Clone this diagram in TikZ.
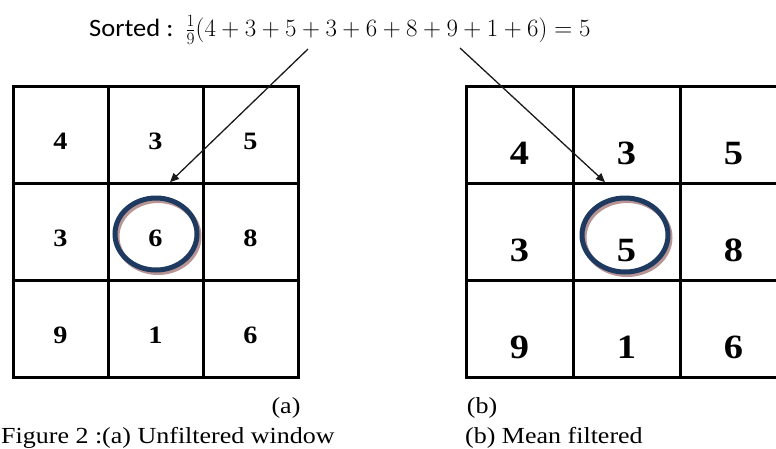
\documentclass[tikz,border=0pt]{standalone}
\usepackage{fontspec}
\usepackage{tikz}
\usetikzlibrary{arrows.meta,positioning}
\newfontfamily\capfont{Liberation Serif}[FakeStretch=1.13]
\newfontfamily\sortfont{Carlito}[FakeStretch=1.06]
\definecolor{ringnavy}{HTML}{1F3A60}
\definecolor{ringshade}{HTML}{B89494}
\definecolor{arrowgrey}{HTML}{1A1A1A}

\begin{document}
\begin{tikzpicture}[x=1pt,y=-1pt,
  cl/.style={draw,line width=3pt,minimum width=95pt,minimum height=96.7pt,inner sep=0pt,
             font=\capfont\bfseries\fontsize{25}{30}\selectfont,text height=29pt,text depth=0pt},
  cr/.style={cl,minimum width=107pt,font=\capfont\bfseries\fontsize{34}{40}\selectfont,text height=59pt},
  ring/.style={draw=ringnavy,line width=5pt},
  shd/.style={draw=ringshade,line width=5pt},
  captxt/.style={font=\capfont\fontsize{23}{27}\selectfont,inner sep=0pt},
  a/.style={-{Triangle[length=9pt,width=8pt]},draw=arrowgrey,line width=1.3pt}]

\useasboundingbox (0,0) rectangle (776,448);
\clip (0,0) rectangle (776,448);

% formula
\node[anchor=base west,inner sep=0pt,font=\sortfont\fontsize{25}{30}\selectfont] (frm) at (89,36)
  {Sorted :\hspace{12pt}{\fontsize{27}{32}\selectfont$\frac{1}{9}(4+3+5+3+6+8+9+1+6)=5$}};

% (a) unfiltered window
\node[cl] (a11) at (60.5,135.3){4}; \node[cl] (a12) at (155.5,135.3){3}; \node[cl] (a13) at (250.5,135.3){5};
\node[cl] (a21) at (60.5,232){3}; \node[cl] (a22) at (155.5,232){6}; \node[cl] (a23) at (250.5,232){8};
\node[cl] (a31) at (60.5,328.7){9}; \node[cl] (a32) at (155.5,328.7){1}; \node[cl] (a33) at (250.5,328.7){6};

% (b) mean filtered
\node[cr] (b11) at (519.5,135.3){4}; \node[cr] (b12) at (626.5,135.3){3}; \node[cr] (b13) at (733.5,135.3){5};
\node[cr] (b21) at (519.5,232){3}; \node[cr] (b22) at (626.5,232){5}; \node[cr] (b23) at (733.5,232){8};
\node[cr] (b31) at (519.5,328.7){9}; \node[cr] (b32) at (626.5,328.7){1}; \node[cr] (b33) at (733.5,328.7){6};

% rings round the centre pixel
\draw[shd] ([shift={(2.5,4.5)}]a22.center) ellipse [x radius=41,y radius=36];
\draw[ring] ([shift={(0.5,2)}]a22.center) ellipse [x radius=41,y radius=36];
\draw[shd] ([shift={(0.5,5.5)}]b22.center) ellipse [x radius=43,y radius=37];
\draw[ring] ([shift={(-1.5,3)}]b22.center) ellipse [x radius=43,y radius=37];

\coordinate (ta) at (308,49); \coordinate (tb) at (460,48);
\draw[a] (ta) -- ([xshift=14.5pt]a22.north);
\draw[a] (tb) -- ([xshift=-21.5pt]b22.north);

% captions
\node[captxt,anchor=base] (capa) at (286,413){(a)};
\node[captxt,anchor=base] (capb) at (482,413){(b)};
\node[captxt,anchor=base west] (figa) at (1,443){Figure 2 :(a) Unfiltered window};
\node[captxt,anchor=base west] (figb) at (465,443){(b) Mean filtered};
\end{tikzpicture}
\end{document}
